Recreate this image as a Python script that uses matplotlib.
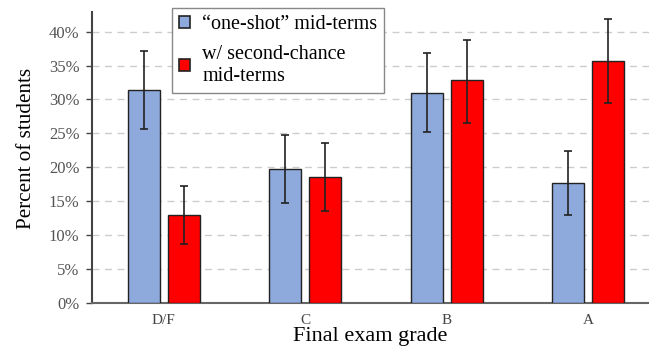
import matplotlib
matplotlib.use("Agg")
import matplotlib.pyplot as plt
import numpy as np
from matplotlib.patches import Patch

categories = ["D/F", "C", "B", "A"]
one_shot = [31.4, 19.7, 31.0, 17.7]
one_shot_lo = [25.7, 14.8, 25.2, 12.9]
one_shot_hi = [37.2, 24.7, 36.8, 22.4]
second = [12.9, 18.6, 32.8, 35.7]
second_lo = [8.7, 13.6, 26.6, 29.5]
second_hi = [17.2, 23.6, 38.8, 41.9]
yticks = [0, 5, 10, 15, 20, 25, 30, 35, 40]

plt.rcParams['font.family'] = ['Liberation Serif', 'DejaVu Serif']

fig = plt.figure(figsize=(6.49, 3.49), dpi=100)
ax = fig.add_axes([0.1418, 0.1318, 0.8582, 0.834])

x = np.arange(len(categories))
w = 0.227
off = 0.142
blue = "#8EA9DB"
red = "#FF0000"

def yerr(v, lo, hi):
    v = np.array(v); return np.vstack([v - np.array(lo), np.array(hi) - v])

ax.bar(x - off, one_shot, w, color=blue, edgecolor="#222222", linewidth=1.0, zorder=3,
       yerr=yerr(one_shot, one_shot_lo, one_shot_hi),
       error_kw=dict(ecolor="#222222", elinewidth=1.2, capsize=3, capthick=1.2, zorder=4))
ax.bar(x + off, second, w, color=red, edgecolor="#222222", linewidth=1.0, zorder=3,
       yerr=yerr(second, second_lo, second_hi),
       error_kw=dict(ecolor="#222222", elinewidth=1.2, capsize=3, capthick=1.2, zorder=4))

ax.set_xlim(-0.507, 3.43)
ax.set_ylim(0, 42.9)
ax.set_yticks(yticks)
ax.set_yticklabels([f"{t}%" for t in yticks], fontsize=12, color="#555555")
ax.set_xticks(x)
ax.set_xticklabels(categories, fontsize=11, color="#444444")
ax.tick_params(axis='x', length=0, pad=8)
ax.tick_params(axis='y', length=4, width=1, color="#444444", pad=5)

for t in yticks[1:]:
    ax.axhline(t, color="#CCCCCC", linestyle=(0, (5, 4)), linewidth=1.0, zorder=1)

for s in ["top", "right"]:
    ax.spines[s].set_visible(False)
ax.spines["left"].set_color("#444444")
ax.spines["left"].set_linewidth(1.5)
ax.spines["bottom"].set_color("#666666")
ax.spines["bottom"].set_linewidth(1.5)

ax.set_ylabel("Percent of students", fontsize=15.2)
ax.yaxis.set_label_coords(-0.1, 0.53)
ax.set_xlabel("Final exam grade", fontsize=16, labelpad=0)

handles = [Patch(facecolor=blue, edgecolor="#222222", linewidth=1.2),
           Patch(facecolor=red, edgecolor="#222222", linewidth=1.2)]
leg = ax.legend(handles, ["\u201cone-shot\u201d mid-terms", "w/ second-chance\nmid-terms"],
                loc="upper left", bbox_to_anchor=(0.1436, 1.0137), fontsize=14.5,
                frameon=True, fancybox=False, edgecolor="#888888", framealpha=1,
                handlelength=0.55, handleheight=0.55, handletextpad=0.6,
                borderpad=0.35, labelspacing=0.55, borderaxespad=0)
leg.get_frame().set_linewidth(1.0)

fig.savefig("out.png", dpi=100)
